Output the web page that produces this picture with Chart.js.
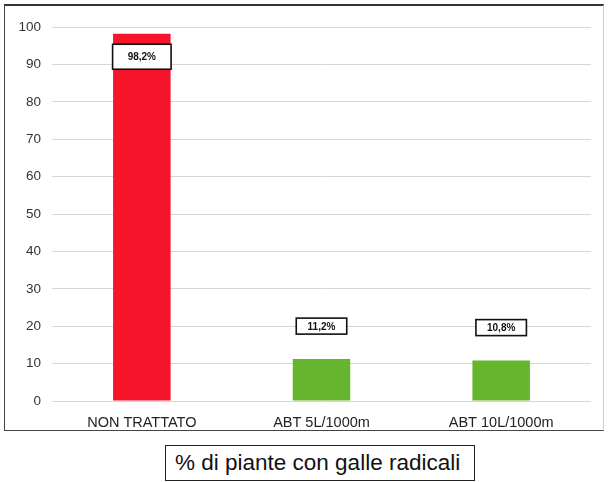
<!DOCTYPE html>
<html>
<head>
<meta charset="utf-8">
<script src="https://cdn.jsdelivr.net/npm/chart.js@4"></script>
<style>
  body { margin: 0; background: #fff; width: 609px; height: 482px; position: relative; overflow: hidden; font-family: "Liberation Sans", Arial, sans-serif; }
  #frame { position: absolute; left: 4px; top: 4px; width: 598px; height: 424px; border: 1.5px solid #444; border-top: 2px solid #333; border-right-color: #ccc; }
  #wrap { position: absolute; left: 0; top: 0; width: 598px; height: 424px; }
  #titolo { position: absolute; left: 165px; top: 445px; width: 310px; height: 36px; border: 1.5px solid #222; box-sizing: border-box; font-size: 22.5px; line-height: 33px; padding-left: 9px; color: #111; white-space: nowrap; }
</style>
</head>
<body>
<div id="frame"><div id="wrap"><canvas id="myChart"></canvas></div></div>
<div id="titolo">% di piante con galle radicali</div>
<script>
var categorie = ['NON TRATTATO', 'ABT 5L/1000m', 'ABT 10L/1000m'];
var valori = [98.2, 11.2, 10.8];
var etichette = ['98,2%', '11,2%', '10,8%'];
var colori = ['#f5142a', '#66b52f', '#66b52f'];
var tickY = [0, 10, 20, 30, 40, 50, 60, 70, 80, 90, 100];

window.addEventListener('load', function(){

    // box con il valore sopra / dentro la barra
    var boxValori = {
        id: 'boxValori',
        afterDatasetsDraw: function(chart){
            var ctx = chart.ctx;
            var meta = chart.getDatasetMeta(0);
            ctx.save();
            ctx.font = 'bold 10px "Liberation Sans", Arial';
            ctx.textAlign = 'center';
            ctx.textBaseline = 'middle';
            meta.data.forEach(function(bar, i){
                var w = bar.width - 7;
                var h = 16;
                var cy;
                if (valori[i] > 50) {
                    cy = bar.y + 23;
                    w = bar.width + 1;
                    h = 25;
                } else {
                    cy = bar.y - 33;
                }
                ctx.fillStyle = '#fff';
                ctx.fillRect(bar.x - w / 2, cy - h / 2, w, h);
                ctx.lineWidth = 1.6;
                ctx.strokeStyle = '#111';
                ctx.strokeRect(bar.x - w / 2, cy - h / 2, w, h);
                ctx.fillStyle = '#111';
                ctx.fillText(etichette[i], bar.x, cy + 1);
            });
            ctx.restore();
        }
    };

    var ctx = document.getElementById('myChart').getContext('2d');
    var chart = new Chart(ctx, {
        type: 'bar',
        data: {
            labels: categorie,
            datasets: [{
                data: valori,
                backgroundColor: colori,
                barPercentage: 0.32,
                categoryPercentage: 1
            }]
        },
        options: {
            responsive: true,
            maintainAspectRatio: false,
            animation: false,
            layout: { padding: { top: 21, right: 12, left: 0, bottom: 0 } },
            plugins: {
                legend: { display: false },
                tooltip: { enabled: false }
            },
            scales: {
                x: {
                    grid: { display: false },
                    border: { display: false },
                    ticks: { color: '#222', font: { size: 14.5, family: '"Liberation Sans", Arial' }, padding: 5 },
                    afterFit: function(s){ s.height = 29; }
                },
                y: {
                    min: 0,
                    max: 100,
                    afterBuildTicks: function(s){ s.ticks = tickY.map(function(v){ return { value: v }; }); },
                    grid: { color: '#d6d6d6', drawTicks: false, lineWidth: 1 },
                    border: { display: false },
                    ticks: { color: '#333', font: { size: 13.5, family: '"Liberation Sans", Arial' }, padding: 11 },
                    afterFit: function(s){ s.width = 47; }
                }
            }
        },
        plugins: [boxValori]
    });
});
</script>
</body>
</html>
